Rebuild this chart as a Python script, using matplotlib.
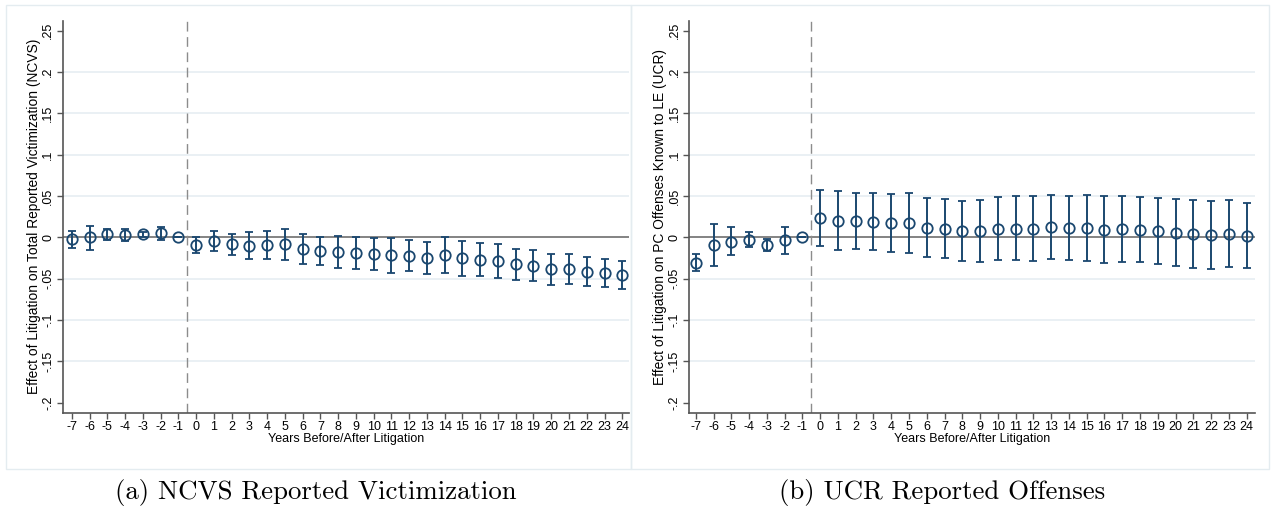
import matplotlib
matplotlib.use("Agg")
import matplotlib.pyplot as plt
from matplotlib.patches import Rectangle
import numpy as np

# event time
years = list(range(-7, 25))

# NCVS: point estimate, lower CI, upper CI
ncvs_coef = [-0.0024, 0.0, 0.0036, 0.003, 0.0036, 0.005, 0.0,
             -0.009, -0.0044, -0.0085, -0.010, -0.0097, -0.0085, -0.014, -0.016,
             -0.0177, -0.019, -0.020, -0.0218, -0.022, -0.025, -0.0218, -0.0254,
             -0.027, -0.0286, -0.0327, -0.034, -0.038, -0.038, -0.042, -0.043, -0.045]
ncvs_lo = [-0.0125, -0.015, -0.003, -0.004, 0.0, -0.0036, 0.0,
           -0.0185, -0.0165, -0.021, -0.0266, -0.0266, -0.0274, -0.032, -0.0335,
           -0.037, -0.0387, -0.040, -0.043, -0.041, -0.044, -0.0435, -0.0468,
           -0.047, -0.049, -0.0516, -0.053, -0.057, -0.056, -0.059, -0.060, -0.062]
ncvs_hi = [0.0077, 0.014, 0.0097, 0.0105, 0.007, 0.013, 0.0,
           0.0, 0.0073, 0.0036, 0.0069, 0.008, 0.0105, 0.0036, 0.0008,
           0.002, 0.0, -0.0004, -0.0004, -0.003, -0.006, 0.0, -0.004,
           -0.0073, -0.0077, -0.0137, -0.0153, -0.0198, -0.020, -0.024, -0.026, -0.0286]

# UCR: point estimate, lower CI, upper CI
ucr_coef = [-0.0306, -0.009, -0.005, -0.003, -0.009, -0.0036, 0.0,
            0.023, 0.020, 0.020, 0.019, 0.017, 0.017, 0.0117, 0.0105,
            0.008, 0.008, 0.0105, 0.0105, 0.0105, 0.012, 0.011, 0.011,
            0.009, 0.0097, 0.009, 0.0077, 0.0056, 0.004, 0.003, 0.0044, 0.002]
ucr_lo = [-0.041, -0.034, -0.021, -0.012, -0.017, -0.020, 0.0,
          -0.011, -0.015, -0.014, -0.015, -0.018, -0.0185, -0.024, -0.025,
          -0.028, -0.030, -0.027, -0.0274, -0.028, -0.026, -0.027, -0.028,
          -0.031, -0.030, -0.030, -0.0327, -0.035, -0.037, -0.038, -0.0355, -0.037]
ucr_hi = [-0.020, 0.016, 0.012, 0.006, -0.0016, 0.012, 0.0,
          0.057, 0.056, 0.054, 0.054, 0.052, 0.054, 0.048, 0.046,
          0.0435, 0.0456, 0.049, 0.0496, 0.0496, 0.051, 0.050, 0.051,
          0.050, 0.050, 0.049, 0.0476, 0.047, 0.045, 0.0435, 0.0456, 0.041]

ytick_vals = [-0.2, -0.15, -0.1, -0.05, 0, 0.05, 0.1, 0.15, 0.2, 0.25]
ytick_labels = ['-.2', '-.15', '-.1', '-.05', '0', '.05', '.1', '.15', '.2', '.25']

xlabel = 'Years Before/After Litigation'
ylabel_a = 'Effect of Litigation on Total Reported Victimization (NCVS)'
ylabel_b = 'Effect of Litigation on PC Offenses Known to LE (UCR)'
caption_a = '(a) NCVS Reported Victimization'
caption_b = '(b) UCR Reported Offenses'

navy = '#1a476f'
grid_col = '#e6eef2'
axis_col = '#555555'

plt.rcParams['font.family'] = ['Liberation Sans', 'DejaVu Sans']

W, H = 1271, 517
fig = plt.figure(figsize=(W / 100, H / 100), dpi=100)

# light frames around each graph
for x0, x1 in [(6, 631), (631, 1269)]:
    fig.patches.append(Rectangle((x0 / W, 1 - 469 / H), (x1 - x0) / W, (469 - 5) / H,
                                 transform=fig.transFigure, fill=False,
                                 edgecolor='#e4ecf0', linewidth=1.0))


def draw(left_px, right_px, xlim, coef, lo, hi, ylabel):
    top_px, bot_px = 20.7, 412.5
    ax = fig.add_axes([left_px / W, 1 - bot_px / H,
                       (right_px - left_px) / W, (bot_px - top_px) / H])
    coef = np.array(coef)
    err = [coef - np.array(lo), np.array(hi) - coef]
    for v in ytick_vals:
        if -0.2 < v < 0.25 and v != 0:
            ax.axhline(v, color=grid_col, linewidth=1.2, zorder=0)
    ax.axhline(0, color='#7a7a7a', linewidth=1.3, zorder=1)
    ax.axvline(-0.5, color='#8c8c8c', linewidth=1.0, dashes=(7, 4), zorder=1)
    ax.errorbar(years, coef, yerr=err, fmt='o', color=navy, ecolor=navy,
                elinewidth=1.4, capsize=3.2, capthick=1.4,
                markersize=7.5, markerfacecolor='none', markeredgewidth=1.3,
                markeredgecolor=navy, zorder=3)
    ax.set_xlim(*xlim)
    ax.set_ylim(-0.2117, 0.262)
    ax.set_xticks(years)
    ax.set_xticklabels([str(y) for y in years])
    ax.set_yticks(ytick_vals)
    ax.set_yticklabels(ytick_labels, rotation=90, va='center')
    for s in ['top', 'right']:
        ax.spines[s].set_visible(False)
    for s in ['left', 'bottom']:
        ax.spines[s].set_color(axis_col)
        ax.spines[s].set_linewidth(1.2)
    ax.tick_params(direction='out', length=4, width=1.0, color=axis_col,
                   labelsize=9, pad=2)
    ax.set_xlabel(xlabel, fontsize=9, labelpad=0)
    ax.set_ylabel(ylabel, fontsize=9.9, labelpad=1)
    return ax


draw(62.7, 629, (-7.52, 24.38), ncvs_coef, ncvs_lo, ncvs_hi, ylabel_a)
draw(689, 1255, (-7.38, 24.47), ucr_coef, ucr_lo, ucr_hi, ylabel_b)

fig.text(316 / W, 1 - 492 / H, caption_a, family='cmr10', fontsize=19.3,
         ha='center', va='center')
fig.text(942 / W, 1 - 492 / H, caption_b, family='cmr10', fontsize=19.3,
         ha='center', va='center')

fig.savefig('out.png', dpi=100)
